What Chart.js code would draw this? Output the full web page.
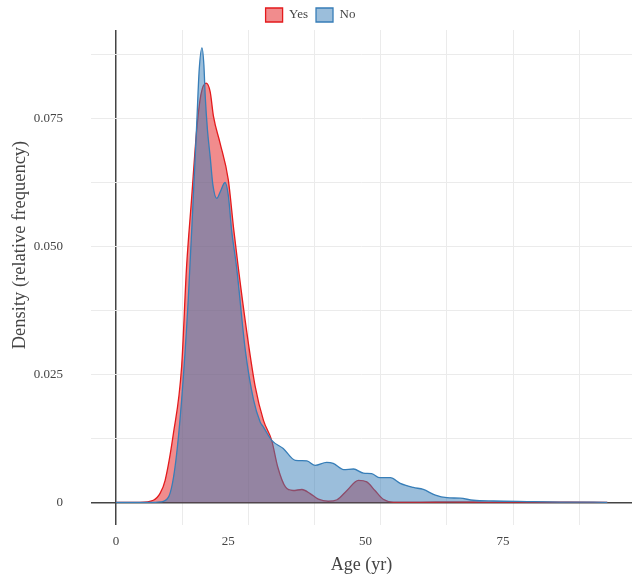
<!DOCTYPE html>
<html>
<head>
<meta charset="utf-8">
<script src="https://cdn.jsdelivr.net/npm/chart.js@4.4.1/dist/chart.umd.min.js"></script>
<style>
  html, body { margin: 0; padding: 0; background: #fff; }
  #wrap { width: 634px; height: 577px; position: relative; }
</style>
</head>
<body>
<div id="wrap"><canvas id="densityChart"></canvas></div>
<script>
/* ===============================
   DATA
================================= */
const yesAge = [4.55, 8.9, 11.35, 12.6, 13.5, 15.0, 16.5, 17.4, 18.3, 19.25, 20.0, 20.95, 21.7, 22.3, 23.5, 25.0, 26.0, 26.8, 28.4, 29.9, 31.4, 32.9, 34.0, 35.4, 36.8, 38.4, 39.9, 41.4, 43.2, 44.8, 46.6, 48.7, 50.2, 51.7, 53.2, 55.1, 60, 65.4, 72, 80, 87, 94];
const yesDensity = [0, 0, 0.0004, 0.0018, 0.0043, 0.0134, 0.0265, 0.046, 0.0591, 0.0728, 0.0796, 0.0819, 0.0802, 0.0754, 0.0702, 0.063, 0.0532, 0.046, 0.033, 0.0226, 0.016, 0.0121, 0.0069, 0.003, 0.0023, 0.0025, 0.0017, 0.0006, 0.0002, 0.0005, 0.0023, 0.0043, 0.004, 0.0023, 0.0006, 0.00005, 0.00005, 0.00006, 0.00005, 0.00004, 0.00002, 0];

const noAge = [4.55, 11.7, 12.6, 14.1, 15.3, 16.5, 17.7, 18.6, 19.25, 19.7, 20.2, 20.55, 20.8, 21.2, 21.7, 22.2, 22.9, 23.5, 24.4, 25.0, 25.6, 26.5, 28.1, 29.6, 30.8, 31.4, 32.9, 35.0, 37.2, 39.3, 40.8, 42.9, 44.1, 46.0, 47.8, 49.6, 51.1, 52.6, 54.5, 56.3, 58.7, 60.5, 62.7, 64.8, 67.2, 69.6, 73.3, 79.4, 85.4, 94];
const noDensity = [0, 0, 0.00006, 0.001, 0.0069, 0.02, 0.0395, 0.0591, 0.074, 0.0845, 0.0888, 0.0855, 0.0793, 0.0728, 0.0675, 0.062, 0.0594, 0.0606, 0.0625, 0.06, 0.0532, 0.046, 0.0297, 0.02, 0.0157, 0.0147, 0.0121, 0.0105, 0.0082, 0.0081, 0.0072, 0.0078, 0.0076, 0.0064, 0.0065, 0.0057, 0.0056, 0.0048, 0.0048, 0.0037, 0.0029, 0.0025, 0.0014, 0.0009, 0.0008, 0.0004, 0.00025, 0.00014, 0.00005, 0];

// axis ticks
const xLabelTicks = [25, 50, 75];
const xZeroLabel = { value: 4.55, label: '0' };
const xGridTicks = [4.55, 16.6, 28.65, 40.7, 52.75, 64.8, 76.85, 88.9];
const yGridTicks = [0, 0.0125, 0.025, 0.0375, 0.05, 0.0625, 0.075, 0.0875];
const yLabels = { 0: '0', 0.025: '0.025', 0.05: '0.050', 0.075: '0.075' };

/* ===============================
   HELPERS
================================= */
const toPoints = (xs, ys) => xs.map((x, i) => ({ x: x, y: ys[i] }));
const GRID = '#ebebeb';
const ZERO = '#444444';
const FONT = "'Liberation Serif', 'DejaVu Serif', serif";

Chart.defaults.font.family = FONT;
Chart.defaults.color = '#444';

// y title drawn by hand so it can sit where the reference has it
const yTitlePlugin = {
    id: 'yTitle',
    afterInit(chart) {
        // keep the legend strip at a fixed height and nudge it a little left
        const lg = chart.legend;
        const fit = lg.fit;
        lg.fit = function () {
            fit.call(this);
            this.height = 30;
            if (this.lineWidths && this.lineWidths.length) this.lineWidths[0] += 11;
        };
    },
    afterDraw(chart) {
        const ctx = chart.ctx;
        ctx.save();
        ctx.translate(20, 245);
        ctx.rotate(-Math.PI / 2);
        ctx.font = '18.5px ' + FONT;
        ctx.fillStyle = '#444';
        ctx.textAlign = 'center';
        ctx.textBaseline = 'middle';
        ctx.fillText('Density (relative frequency)', 0, 0);
        ctx.restore();
    }
};

/* ===============================
   CHART
================================= */
new Chart(document.getElementById('densityChart'), {
    type: 'line',
    data: {
        datasets: [
            {
                label: 'Yes',
                data: toPoints(yesAge, yesDensity),
                borderColor: '#e41a1c',
                backgroundColor: 'rgba(228,26,28,0.5)',
                borderWidth: 1.3,
                fill: 'origin',
                pointRadius: 0,
                cubicInterpolationMode: 'monotone',
                order: 1
            },
            {
                label: 'No',
                data: toPoints(noAge, noDensity),
                borderColor: '#377eb8',
                backgroundColor: 'rgba(55,126,184,0.5)',
                borderWidth: 1.3,
                fill: 'origin',
                pointRadius: 0,
                cubicInterpolationMode: 'monotone',
                order: 0
            }
        ]
    },
    options: {
        responsive: true,
        maintainAspectRatio: false,
        animation: false,
        events: [],
        layout: { padding: { top: 0, right: 2, left: 0, bottom: 0 } },
        plugins: {
            tooltip: { enabled: false },
            legend: {
                position: 'top',
                labels: {
                    boxWidth: 17,
                    boxHeight: 14,
                    padding: 8,
                    font: { size: 13 },
                    sort: (a, b) => a.datasetIndex - b.datasetIndex
                }
            }
        },
        scales: {
            x: {
                type: 'linear',
                min: 0,
                max: 98.5,
                border: { display: false },
                afterFit: scale => {
                    scale.height = 52;
                    scale.paddingLeft = 0;
                    scale.paddingRight = 0;
                },
                afterBuildTicks: scale => {
                    const ticks = xGridTicks.map(v => ({ value: v, grid: true }));
                    ticks[0].label = xZeroLabel.label;
                    xLabelTicks.forEach(v => ticks.push({ value: v, label: String(v), grid: false }));
                    ticks.sort((a, b) => a.value - b.value);
                    scale.ticks = ticks;
                },
                grid: {
                    drawTicks: false,
                    color: ctx => {
                        const t = ctx.tick;
                        if (!t || !t.grid) return 'rgba(0,0,0,0)';
                        return t.value === xZeroLabel.value ? ZERO : GRID;
                    },
                    lineWidth: ctx => (ctx.tick && ctx.tick.value === xZeroLabel.value ? 1.5 : 1)
                },
                ticks: {
                    autoSkip: false,
                    maxRotation: 0,
                    padding: 9,
                    font: { size: 13 },
                    callback: function (value, index, ticks) {
                        return ticks[index].label || '';
                    }
                },
                title: {
                    display: true,
                    text: 'Age (yr)',
                    font: { size: 18 },
                    padding: { top: 0, bottom: 1 }
                }
            },
            y: {
                min: -0.00444,
                max: 0.0923,
                border: { display: false },
                afterFit: scale => {
                    scale.width = 91;
                    scale.paddingTop = 0;
                    scale.paddingBottom = 0;
                },
                afterBuildTicks: scale => {
                    scale.ticks = yGridTicks.map(v => ({ value: v }));
                },
                grid: {
                    drawTicks: false,
                    color: ctx => (ctx.tick && ctx.tick.value === 0 ? ZERO : GRID),
                    lineWidth: ctx => (ctx.tick && ctx.tick.value === 0 ? 1.5 : 1)
                },
                ticks: {
                    padding: 28,
                    font: { size: 13 },
                    callback: value => {
                        const key = Object.keys(yLabels).find(k => Math.abs(Number(k) - value) < 1e-9);
                        return key !== undefined ? yLabels[key] : '';
                    }
                }
            }
        }
    },
    plugins: [yTitlePlugin]
});
</script>
</body>
</html>
